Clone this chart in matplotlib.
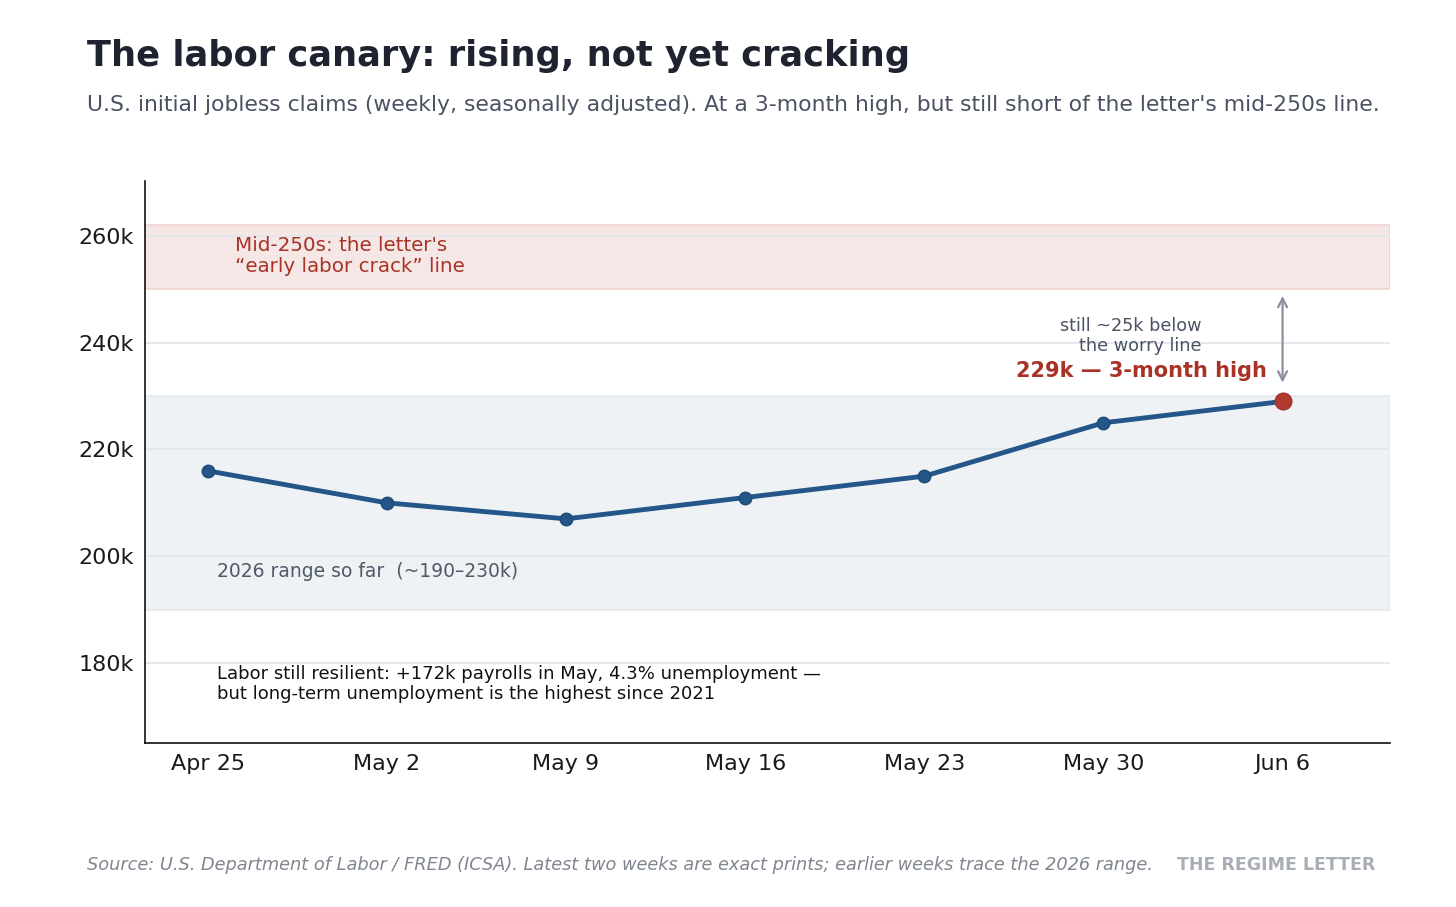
import matplotlib.pyplot as plt

# weekly initial claims, thousands
weeks = ['Apr 25', 'May 2', 'May 9', 'May 16', 'May 23', 'May 30', 'Jun 6']
claims = [216, 210, 207, 211, 215, 225, 229]

worry_band = (250, 262)
range_band = (190, 230)
yticks = [180, 200, 220, 240, 260]

line_col = '#24568a'
red = '#a93226'

fig = plt.figure(figsize=(14.56, 9.07), dpi=100)
ax = fig.add_axes([0.0996, 0.1808, 0.8551, 0.6196])

x = list(range(len(weeks)))

ax.axhspan(*worry_band, facecolor='#f5e7e6', edgecolor='#efd3d0', lw=1.2, zorder=0)
ax.axhspan(*range_band, facecolor='#eff2f5', edgecolor='#e4e9ef', lw=1.2, zorder=0)
for t in yticks:
    ax.axhline(t, color='#e3e6eb', lw=1.3, zorder=0.5)

ax.plot(x, claims, color=line_col, lw=3.5, marker='o', ms=9,
        markerfacecolor=line_col, markeredgecolor='#1d4a73', zorder=3)
ax.plot(x[-1], claims[-1], 'o', ms=12, color='#b03a2e',
        markeredgecolor='#a0342a', zorder=4)

ax.annotate('', xy=(x[-1], 232), xytext=(x[-1], 249.3),
            arrowprops=dict(arrowstyle='<->', color='#8a909c', lw=1.6,
                            mutation_scale=16), zorder=2)

ax.text(0.15, 256.3, "Mid-250s: the letter's\n\u201cearly labor crack\u201d line",
        color=red, fontsize=14.3, va='center', ha='left', linespacing=1.12)
ax.text(0.05, 197.1, '2026 range so far  (~190\u2013230k)', color='#4f5968',
        fontsize=13.5, va='center', ha='left')
ax.text(0.05, 176.1, 'Labor still resilient: +172k payrolls in May, 4.3% unemployment \u2014\n'
        'but long-term unemployment is the highest since 2021', color='#111111',
        fontsize=13, va='center', ha='left', linespacing=1.12)
ax.text(5.547, 241.2, 'still ~25k below\nthe worry line', color='#4a5263',
        fontsize=12.7, va='center', ha='right', linespacing=1.15)
ax.text(5.91, 234.7, '229k \u2014 3-month high', color=red, fontsize=15,
        fontweight='bold', va='center', ha='right')

ax.set_xlim(-0.35, 6.6)
ax.set_ylim(165, 270.3)
ax.set_xticks(x)
ax.set_xticklabels(weeks)
ax.set_yticks(yticks)
ax.set_yticklabels([f'{t}k' for t in yticks])
ax.tick_params(length=0, labelsize=16, colors='#1a1a1a', pad=8)
ax.spines['top'].set_visible(False)
ax.spines['right'].set_visible(False)
for s in ('left', 'bottom'):
    ax.spines[s].set_linewidth(1.2)
    ax.spines[s].set_color('#111111')

fig.text(87 / 1456, 1 - 56 / 907, 'The labor canary: rising, not yet cracking',
         fontsize=25.4, fontweight='bold', color='#1f2330', va='center', ha='left')
fig.text(87 / 1456, 1 - 105 / 907,
         "U.S. initial jobless claims (weekly, seasonally adjusted). At a 3-month high, "
         "but still short of the letter's mid-250s line.",
         fontsize=15.75, color='#4a5263', va='center', ha='left')
fig.text(87 / 1456, 1 - 865 / 907,
         'Source: U.S. Department of Labor / FRED (ICSA). Latest two weeks are exact prints; '
         'earlier weeks trace the 2026 range.',
         fontsize=12.75, style='italic', color='#80868f', va='center', ha='left')
fig.text(1375 / 1456, 1 - 865 / 907, 'THE REGIME LETTER', fontsize=12.5,
         fontweight='bold', color='#a9aeb6', va='center', ha='right')

fig.savefig('out.png', dpi=100)
